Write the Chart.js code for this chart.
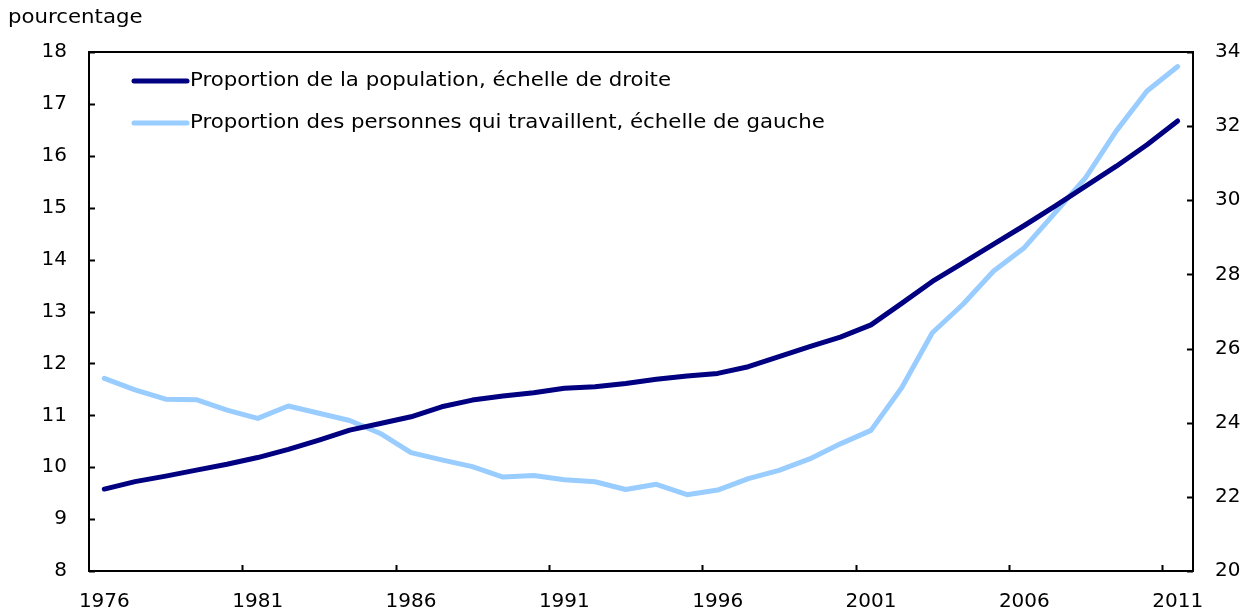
<!DOCTYPE html>
<html>
<head>
<meta charset="utf-8">
<script src="https://cdn.jsdelivr.net/npm/chart.js@4.4.1/dist/chart.umd.min.js"></script>
<style>
    html, body { margin: 0; padding: 0; background: #fff; }
</style>
</head>
<body>
<canvas id="chart" width="1248" height="614"></canvas>
<script>
const years = ['1976', '1977', '1978', '1979', '1980', '1981', '1982', '1983', '1984', '1985',
    '1986', '1987', '1988', '1989', '1990', '1991', '1992', '1993', '1994', '1995',
    '1996', '1997', '1998', '1999', '2000', '2001', '2002', '2003', '2004', '2005',
    '2006', '2007', '2008', '2009', '2010', '2011'];

// right axis
const populationShare = [22.21, 22.41, 22.56, 22.72, 22.88, 23.06, 23.28, 23.53, 23.80, 23.98,
    24.16, 24.43, 24.61, 24.72, 24.81, 24.93, 24.97, 25.06, 25.17, 25.26,
    25.33, 25.51, 25.78, 26.05, 26.31, 26.64, 27.22, 27.81, 28.31, 28.82,
    29.32, 29.84, 30.38, 30.92, 31.50, 32.14];

// left axis
const workerShare = [11.71, 11.49, 11.31, 11.30, 11.10, 10.94, 11.18, 11.04, 10.90, 10.65,
    10.28, 10.14, 10.01, 9.81, 9.84, 9.76, 9.72, 9.57, 9.67, 9.47,
    9.56, 9.78, 9.94, 10.16, 10.45, 10.71, 11.53, 12.59, 13.14, 13.78,
    14.23, 14.90, 15.58, 16.48, 17.25, 17.72];

const seriesLabels = [
    'Proportion de la population, échelle de droite',
    'Proportion des personnes qui travaillent, échelle de gauche'
];
const unitLabel = 'pourcentage';

Chart.defaults.font.family = '"DejaVu Sans", Verdana, sans-serif';
Chart.defaults.font.size = 20;
Chart.defaults.color = '#000';

const lineDefaults = {
    borderWidth: 5,
    pointRadius: 0,
    tension: 0,
    borderCapStyle: 'round',
    borderJoinStyle: 'round',
    fill: false
};

// text in the reference is a bit wider than DejaVu, stretch it a little
function wideText(ctx, text, x, y) {
    ctx.save();
    ctx.translate(x, y);
    ctx.scale(1.12, 1);
    ctx.fillText(text, 0, 0);
    ctx.restore();
}

// frame, inward tick marks, legend and unit label
const decor = {
    id: 'decor',
    afterDraw(chart) {
        const { ctx, chartArea: a, scales } = chart;
        const tick = 6;
        ctx.save();
        ctx.strokeStyle = '#000';
        ctx.lineWidth = 2;
        ctx.strokeRect(a.left, a.top, a.right - a.left, a.bottom - a.top);

        ctx.beginPath();
        const xs = scales.x;
        const half = (xs.getPixelForValue(1) - xs.getPixelForValue(0)) / 2;
        years.forEach((y, i) => {
            if (i % 5 === 0 && i > 0) {
                const px = Math.round(xs.getPixelForValue(i) - half) + 0.5;
                ctx.moveTo(px, a.bottom);
                ctx.lineTo(px, a.bottom - tick);
            }
        });
        scales.y.ticks.forEach(t => {
            const py = Math.round(scales.y.getPixelForValue(t.value)) + 0.5;
            ctx.moveTo(a.left, py);
            ctx.lineTo(a.left + tick, py);
        });
        scales.y2.ticks.forEach(t => {
            const py = Math.round(scales.y2.getPixelForValue(t.value)) + 0.5;
            ctx.moveTo(a.right, py);
            ctx.lineTo(a.right - tick, py);
        });
        ctx.stroke();

        // legend
        ctx.font = '19px "DejaVu Sans", Verdana, sans-serif';
        ctx.textBaseline = 'middle';
        ctx.textAlign = 'left';
        chart.data.datasets.forEach((ds, i) => {
            const ly = a.top + 29 + i * 42;
            ctx.strokeStyle = ds.borderColor;
            ctx.lineWidth = 5;
            ctx.lineCap = 'round';
            ctx.beginPath();
            ctx.moveTo(a.left + 45, ly);
            ctx.lineTo(a.left + 98, ly);
            ctx.stroke();
            ctx.fillStyle = '#000';
            wideText(ctx, ds.label, a.left + 101, ly);
        });

        wideText(ctx, unitLabel, 8, 18);
        ctx.restore();
    }
};

const ctx = document.getElementById('chart').getContext('2d');
const chart = new Chart(ctx, {
    type: 'line',
    data: {
        labels: years,
        datasets: [{
            label: seriesLabels[0],
            data: populationShare,
            borderColor: '#000080',
            yAxisID: 'y2',
            ...lineDefaults
        },
        {
            label: seriesLabels[1],
            data: workerShare,
            borderColor: '#99ccff',
            yAxisID: 'y',
            ...lineDefaults
        }]
    },
    options: {
        responsive: false,
        animation: false,
        layout: { padding: { top: 52, left: 0, right: 0, bottom: 0 } },
        plugins: {
            legend: { display: false },
            tooltip: { enabled: false }
        },
        scales: {
            x: {
                type: 'category',
                offset: true,
                grid: { display: false, drawTicks: false },
                border: { display: false },
                ticks: {
                    autoSkip: false,
                    maxRotation: 0,
                    padding: 19,
                    callback: (v, i) => i % 5 === 0 ? years[i] : ''
                },
                afterFit: s => { s.height = 43; }
            },
            y: {
                position: 'left',
                min: 8,
                max: 18,
                grid: { display: false, drawTicks: false },
                border: { display: false },
                ticks: { stepSize: 1, padding: 22 },
                afterFit: s => { s.width = 89; }
            },
            y2: {
                position: 'right',
                min: 20,
                max: 34,
                grid: { display: false, drawTicks: false },
                border: { display: false },
                ticks: { stepSize: 2, padding: 22 },
                afterFit: s => { s.width = 55; }
            }
        }
    },
    plugins: [decor]
});
</script>
</body>
</html>
